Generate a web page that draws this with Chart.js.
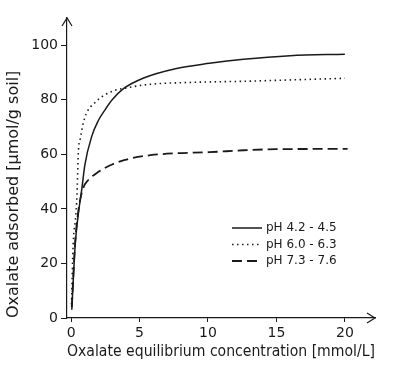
<!DOCTYPE html>
<html>
<head>
<meta charset="utf-8">
<script src="https://cdn.jsdelivr.net/npm/chart.js@4"></script>
<style>
  body { margin: 0; background: #fff; }
  #wrap { width: 398px; height: 365px; }
</style>
</head>
<body>
<div id="wrap"><canvas id="oxalate-chart" width="398" height="365"></canvas></div>
<script>
// legend labels
const series = ['pH 4.2 - 4.5', 'pH 6.0 - 6.3', 'pH 7.3 - 7.6'];

// oxalate equilibrium concentration (mmol/L) and adsorbed (umol/g soil)
const xAcid = [0.05, 0.3, 0.5, 0.8, 1.0, 1.5, 2.0, 2.5, 3.0, 3.8, 5.3, 7.7, 10.1, 12.6, 16, 20];
const yAcid = [3, 27, 37, 48, 56, 66.5, 72.5, 76.5, 80, 84, 88, 91.5, 93.4, 94.9, 96.2, 96.7];

const xNeutral = [0.03, 0.15, 0.35, 0.45, 0.52, 0.68, 1.0, 1.75, 2.85, 4.3, 5.8, 8.9, 12.6, 20];
const yNeutral = [5, 27, 38, 48, 60, 66, 73.5, 79, 82.8, 84.6, 85.7, 86.4, 86.8, 87.9];

const xAlkaline = [0.05, 0.3, 0.55, 0.88, 1.24, 1.97, 2.99, 3.94, 5.8, 7.7, 10.1, 12.6, 15, 20.2];
const yAlkaline = [4, 28, 40, 47.6, 50.5, 53.5, 56.3, 58, 59.7, 60.4, 60.8, 61.5, 61.9, 62];

const xTicks = [0, 5, 10, 15, 20];
const yTicks = [0, 20, 40, 60, 80, 100];

const pts = (xs, ys) => xs.map((x, i) => ({ x: x, y: ys[i] }));

const ink = '#1a1a1a';
const font = 'DejaVu Sans';

// open arrow heads on the axes + legend inside the plot
const axesDeco = {
  id: 'axesDeco',
  afterDatasetsDraw(chart) {
    const c = chart.ctx;
    const a = chart.chartArea;
    c.save();
    c.strokeStyle = ink;
    c.lineWidth = 1.2;
    c.beginPath();
    c.moveTo(a.right - 8, a.bottom - 5);
    c.lineTo(a.right, a.bottom);
    c.lineTo(a.right - 8, a.bottom + 5);
    c.moveTo(a.left - 5, a.top + 8);
    c.lineTo(a.left, a.top);
    c.lineTo(a.left + 5, a.top + 8);
    c.stroke();

    // legend
    c.font = '12px ' + font;
    c.fillStyle = ink;
    c.textBaseline = 'middle';
    chart.data.datasets.forEach((ds, i) => {
      const y = 228 + i * 16.5;
      c.beginPath();
      c.lineWidth = ds.borderWidth;
      c.setLineDash(ds.borderDash || []);
      c.moveTo(232, y);
      c.lineTo(262, y);
      c.stroke();
      c.setLineDash([]);
      c.fillText(ds.label, 266, y);
    });
    c.restore();
  }
};

const ctx = document.getElementById('oxalate-chart');
const chart = new Chart(ctx, {
  type: 'line',
  data: {
    datasets: [{
      label: series[0],
      data: pts(xAcid, yAcid),
      borderColor: ink,
      borderWidth: 1.5,
      borderDash: [],
    }, {
      label: series[1],
      data: pts(xNeutral, yNeutral),
      borderColor: ink,
      borderWidth: 1.6,
      borderDash: [1.5, 3.5],
    }, {
      label: series[2],
      data: pts(xAlkaline, yAlkaline),
      borderColor: ink,
      borderWidth: 1.8,
      borderDash: [10, 5],
    }]
  },
  options: {
    responsive: false,
    animation: false,
    cubicInterpolationMode: 'monotone',
    elements: { point: { radius: 0 } },
    layout: { padding: { top: 18, right: 23, left: 0, bottom: 0 } },
    plugins: {
      legend: { display: false },
      tooltip: { enabled: false }
    },
    scales: {
      x: {
        type: 'linear',
        min: -0.3,
        max: 22.2,
        afterFit(s) { s.height = 47; },
        afterBuildTicks(s) { s.ticks = xTicks.map(v => ({ value: v })); },
        grid: { drawOnChartArea: false, tickLength: 4, tickColor: ink },
        border: { color: ink, width: 1.2 },
        ticks: { color: ink, font: { family: font, size: 14 }, padding: 3 },
        title: {
          display: true,
          text: 'Oxalate equilibrium concentration [mmol/L]',
          color: ink,
          font: { family: font, size: 15 },
          padding: { top: 0 }
        }
      },
      y: {
        type: 'linear',
        min: 0,
        max: 110,
        afterFit(s) { s.width = 67; },
        afterBuildTicks(s) { s.ticks = yTicks.map(v => ({ value: v })); },
        grid: { drawOnChartArea: false, tickLength: 6, tickColor: ink },
        border: { color: ink, width: 1.2 },
        ticks: { color: ink, font: { family: font, size: 14 }, padding: 3 },
        title: {
          display: true,
          align: 'start',
          text: 'Oxalate adsorbed [\u00b5mol/g soil]',
          color: ink,
          font: { family: font, size: 16 },
          padding: { bottom: 2 }
        }
      }
    }
  },
  plugins: [axesDeco]
});
</script>
</body>
</html>
